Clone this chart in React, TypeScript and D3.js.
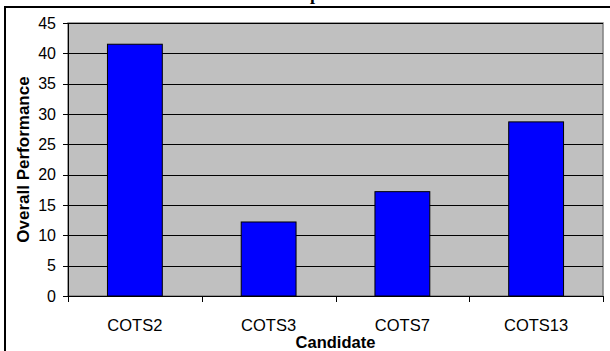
import React from "react";
import * as d3 from "d3";

const categories = ["COTS2", "COTS3", "COTS7", "COTS13"];
const values = [41.5, 12.2, 17.2, 28.7];
const yTicks = [0, 5, 10, 15, 20, 25, 30, 35, 40, 45];
const titleText = "Comparison";
const xTitle = "Candidate";
const yTitle = "Overall Performance";

export default function App() {
  const W = 610, H = 351;
  const left = 68, right = 603, top = 23, bottom = 296;
  const x = d3.scaleBand<string>().domain(categories).range([left, right]).paddingInner(0).paddingOuter(0);
  const y = d3.scaleLinear().domain([0, 45]).range([bottom, top]);
  const bw = x.bandwidth() * 0.41;
  const font = "'Liberation Sans', Arial, sans-serif";
  const bounds = [...categories.map((c) => x(c)!), right];
  return (
    <svg width={W} height={H} style={{ position: "absolute", left: 0, top: 0 }}>
      <rect x={0} y={0} width={W} height={H} fill="#fff" />
      <text x={273} y={0} fontFamily="'Liberation Serif', serif" fontWeight="bold" fontSize={18}>{titleText}</text>
      <rect x={5} y={7} width={W + 10} height={H + 10} fill="none" stroke="#000" strokeWidth={2} />
      <rect x={left} y={top} width={right - left} height={bottom - top} fill="#C0C0C0" stroke="#808080" strokeWidth={1.5} />
      {yTicks.filter((t) => t > 0).map((t) => (
        <line key={t} x1={left} x2={right} y1={Math.round(y(t)) + 0.5} y2={Math.round(y(t)) + 0.5} stroke="#000" strokeWidth={1} />
      ))}
      {categories.map((c, i) => (
        <rect key={c} x={x(c)! + (x.bandwidth() - bw) / 2} y={y(values[i])} width={bw} height={bottom - y(values[i])} fill="#0000FF" stroke="#000" strokeWidth={1} />
      ))}
      <line x1={left + 0.5} x2={left + 0.5} y1={top} y2={bottom} stroke="#000" />
      <line x1={left} x2={right} y1={bottom + 0.5} y2={bottom + 0.5} stroke="#000" />
      {yTicks.map((t) => (
        <g key={t}>
          <line x1={left - 5} x2={left} y1={Math.round(y(t)) + 0.5} y2={Math.round(y(t)) + 0.5} stroke="#000" />
          <text x={56} y={y(t) + 5.5} textAnchor="end" fontFamily={font} fontSize={16}>{t}</text>
        </g>
      ))}
      {bounds.map((b, i) => (
        <line key={i} x1={Math.round(b) + 0.5} x2={Math.round(b) + 0.5} y1={bottom} y2={bottom + 6} stroke="#000" />
      ))}
      {categories.map((c) => (
        <text key={c} x={x(c)! + x.bandwidth() / 2} y={331} textAnchor="middle" fontFamily={font} fontSize={16.5}>{c}</text>
      ))}
      <text x={(left + right) / 2} y={348} textAnchor="middle" fontFamily={font} fontWeight="bold" fontSize={16.5}>{xTitle}</text>
      <text transform={`translate(29,${(top + bottom) / 2}) rotate(-90)`} textAnchor="middle" fontFamily={font} fontWeight="bold" fontSize={17}>{yTitle}</text>
    </svg>
  );
}
